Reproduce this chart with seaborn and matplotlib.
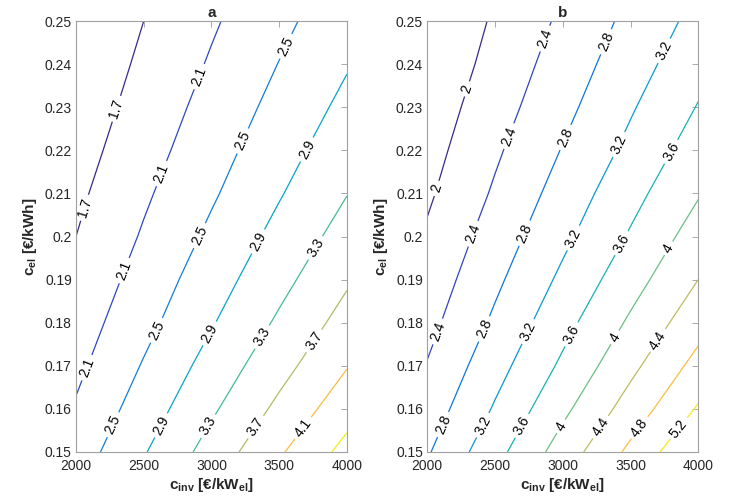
import numpy as np
import matplotlib
matplotlib.use('Agg')
import matplotlib.pyplot as plt
import seaborn as sns

# grid of the two maps
c_inv = [2000, 2500, 3000, 3500, 4000]
c_el = [0.15, 0.16, 0.17, 0.18, 0.19, 0.20, 0.21, 0.22, 0.23, 0.24, 0.25]

# panel a, one row per c_el value
z_a = [
    [2.29, 2.87, 3.46, 4.05, 4.63],
    [2.14, 2.69, 3.24, 3.79, 4.34],
    [2.01, 2.53, 3.05, 3.56, 4.08],
    [1.90, 2.38, 2.87, 3.36, 3.85],
    [1.79, 2.26, 2.72, 3.18, 3.65],
    [1.70, 2.14, 2.58, 3.02, 3.46],
    [1.62, 2.04, 2.45, 2.87, 3.29],
    [1.54, 1.94, 2.34, 2.74, 3.14],
    [1.47, 1.85, 2.24, 2.62, 3.00],
    [1.41, 1.77, 2.14, 2.51, 2.87],
    [1.35, 1.70, 2.05, 2.40, 2.76],
]
# panel b
z_b = [
    [2.76, 3.47, 4.18, 4.89, 5.60],
    [2.58, 3.24, 3.91, 4.57, 5.24],
    [2.42, 3.05, 3.67, 4.30, 4.93],
    [2.28, 2.87, 3.47, 4.06, 4.65],
    [2.16, 2.72, 3.28, 3.84, 4.40],
    [2.05, 2.58, 3.11, 3.64, 4.18],
    [1.94, 2.45, 2.96, 3.47, 3.97],
    [1.85, 2.34, 2.82, 3.30, 3.79],
    [1.77, 2.23, 2.69, 3.16, 3.62],
    [1.69, 2.13, 2.58, 3.02, 3.47],
    [1.62, 2.05, 2.47, 2.90, 3.32],
]
levels_a = [1.7, 2.1, 2.5, 2.9, 3.3, 3.7, 4.1, 4.5]
levels_b = [2.0, 2.4, 2.8, 3.2, 3.6, 4.0, 4.4, 4.8, 5.2]
x_ticks = [2000, 2500, 3000, 3500, 4000]
y_ticks = [0.15, 0.16, 0.17, 0.18, 0.19, 0.20, 0.21, 0.22, 0.23, 0.24, 0.25]

sns.set_style('white')
plt.rcParams['font.family'] = ['Liberation Sans', 'DejaVu Sans']
plt.rcParams['mathtext.fontset'] = 'custom'
plt.rcParams['mathtext.rm'] = 'Liberation Sans:bold'
plt.rcParams['mathtext.default'] = 'rm'

# parula-like map
parula = sns.blend_palette([
    (0.2081, 0.1663, 0.5292), (0.1959, 0.2645, 0.7279), (0.0117, 0.3875, 0.8820),
    (0.0498, 0.4586, 0.8641), (0.0793, 0.5200, 0.8312), (0.0343, 0.5966, 0.8199),
    (0.0228, 0.6535, 0.7768), (0.0843, 0.6928, 0.7062), (0.2178, 0.7250, 0.6193),
    (0.3953, 0.7459, 0.5244), (0.5709, 0.7485, 0.4494), (0.7184, 0.7411, 0.3905),
    (0.8507, 0.7299, 0.3360), (0.9739, 0.7314, 0.2666), (0.9880, 0.8066, 0.1794),
    (0.9589, 0.8949, 0.1132), (0.9763, 0.9831, 0.0538)], n_colors=256, as_cmap=True)


def label_spots(ax, cs, first=30, step=104):
    # matlab-like: a label every ~step px along each line
    spots = []
    inv = ax.transData.inverted()
    for path in cs.get_paths():
        for poly in path.to_polygons(closed_only=False):
            if len(poly) < 2:
                continue
            if poly[0, 1] > poly[-1, 1]:
                poly = poly[::-1]
            pix = ax.transData.transform(poly)
            dist = np.concatenate([[0], np.cumsum(np.hypot(*np.diff(pix, axis=0).T))])
            d = first
            while d < dist[-1] - 8:
                spots.append(inv.transform((np.interp(d, dist, pix[:, 0]),
                                            np.interp(d, dist, pix[:, 1]))))
                d += step
    return spots


fig = plt.figure(figsize=(7.3, 4.99), dpi=100)
panels = [('a', z_a, levels_a, (1.9, 4.6), 0.1041),
          ('b', z_b, levels_b, (2.2, 5.35), 0.5853)]

for name, z, levels, (vmin, vmax), left in panels:
    ax = fig.add_axes([left, 0.0942, 0.3712, 0.8637])
    ax.set_xlim(2000, 4000)
    ax.set_ylim(0.15, 0.25)
    cs = ax.contour(c_inv, c_el, np.array(z), levels=levels, cmap=parula,
                    vmin=vmin, vmax=vmax, linewidths=0.9)
    ax.clabel(cs, manual=label_spots(ax, cs), inline=True, inline_spacing=4,
              fontsize=10, colors='k', fmt=lambda v: f'{round(v, 1):g}')
    ax.set_xticks(x_ticks)
    ax.set_yticks(y_ticks)
    ax.set_yticklabels([f'{round(v, 2):g}' for v in y_ticks])
    ax.tick_params(direction='in', top=True, right=True, length=4, width=0.6,
                   color='#9a9a9a', labelcolor='#262626', labelsize=10, pad=3)
    ax.tick_params(axis='x', pad=5)
    for sp in ax.spines.values():
        sp.set_color('#a0a0a0')
        sp.set_linewidth(0.8)
    ax.set_title(name, fontsize=11, fontweight='bold', pad=3)
    ax.set_xlabel(r'c$_{\mathrm{inv}}$ [€/kW$_{\mathrm{el}}$]', fontsize=11,
                  fontweight='bold', labelpad=2)
    ax.set_ylabel(r'c$_{\mathrm{el}}$ [€/kWh]', fontsize=11, fontweight='bold',
                  labelpad=4)

fig.savefig('out.png', dpi=100)
